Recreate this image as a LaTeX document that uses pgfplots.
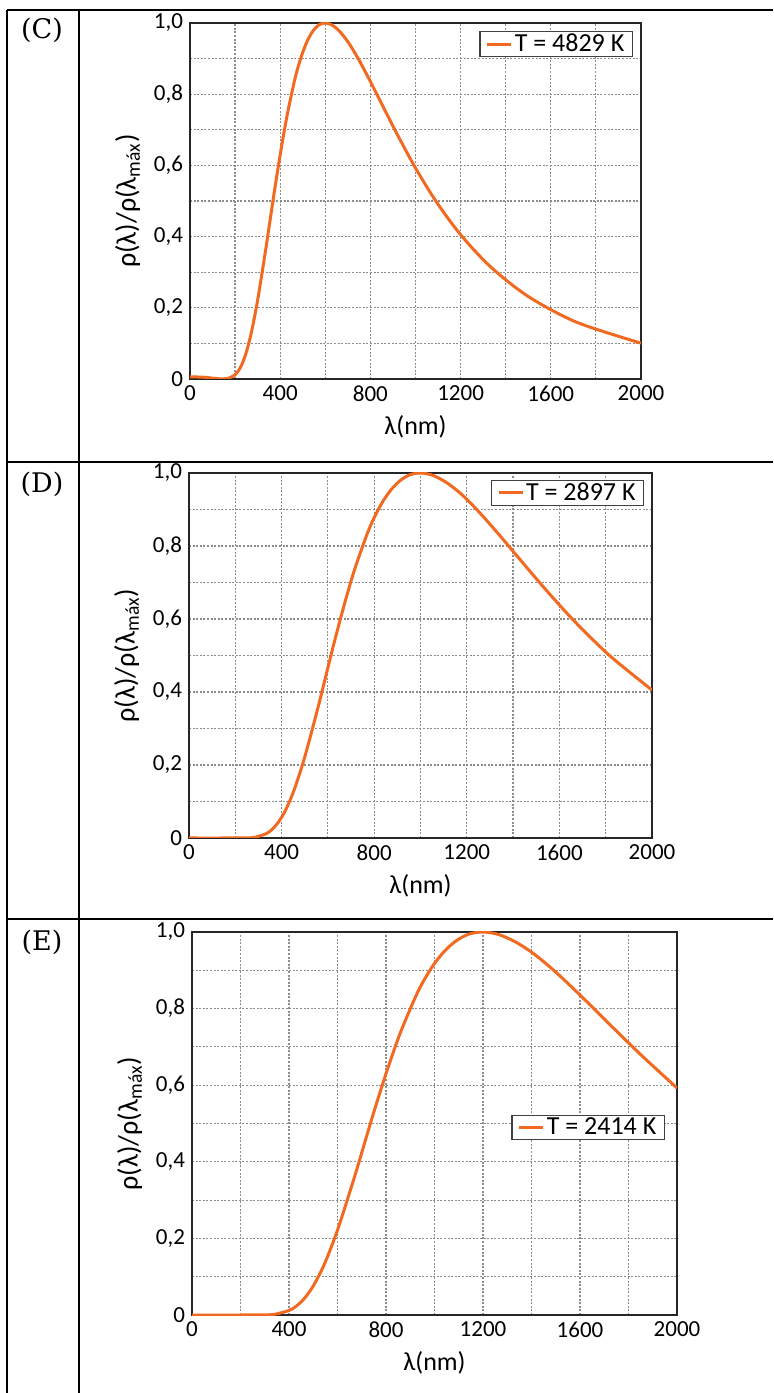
\documentclass[border=0pt]{standalone}
\usepackage{fontspec}
\setmainfont{Carlito}
\newfontfamily\labfont{DejaVu Serif}
\usepackage{pgfplots}
\pgfplotsset{compat=1.18}
\definecolor{curve}{RGB}{242,106,33}

\pgfplotsset{planck/.style={
  scale only axis,
  anchor=south west,
  xmin=0, xmax=2000, ymin=0, ymax=1,
  xtick={0,400,...,2000},
  xticklabels={0,400,800,1200,1600,2000},
  minor xtick={200,600,...,1800},
  ytick={0,0.2,0.4,0.6,0.8,1},
  yticklabels={0,{0,2},{0,4},{0,6},{0,8},{1,0}},
  minor ytick={0.1,0.3,0.5,0.7,0.9},
  grid=both,
  major grid style={black!45, dash pattern=on 1pt off 0.8pt, line width=0.6pt},
  minor grid style={black!45, dash pattern=on 1pt off 0.8pt, line width=0.6pt},
  major tick length=0pt, minor tick length=0pt,
  axis line style={line width=1pt, black!85},
  tick label style={font=\fontsize{11.5}{12}\selectfont},
  xlabel={λ(nm)},
  ylabel={ρ(λ)/ρ(λ\textsubscript{máx})},
  xlabel style={font=\fontsize{13}{14}\selectfont},
  ylabel style={font=\fontsize{14}{15}\selectfont},
  legend style={draw=black!75, line width=0.6pt, font=\fontsize{13}{14}\selectfont,
    inner xsep=3pt, inner ysep=0pt, nodes={inner sep=1pt}},
  legend image code/.code={\draw[curve, line width=1.5pt] (0cm,0cm) -- (0.42cm,0cm);},
  legend cell align=left,
}}

\begin{document}
\begin{tikzpicture}
\path[use as bounding box] (0,0) rectangle (386.5pt,696.5pt);
% table rules
\draw[line width=1pt] (3.5pt,691.5pt) -- (386.5pt,691.5pt);
\draw[line width=1pt] (3.5pt,691.5pt) -- (3.5pt,0pt);
\draw[line width=1pt] (39.5pt,691.5pt) -- (39.5pt,0pt);
\draw[line width=1pt] (3.5pt,465.5pt) -- (386.5pt,465.5pt);
\draw[line width=1pt] (3.5pt,237pt) -- (386.5pt,237pt);
\node[font=\labfont\fontsize{13.5}{15}\selectfont] at (21pt,681.5pt) {(C)};
\node[font=\labfont\fontsize{13.5}{15}\selectfont] at (21pt,454.5pt) {(D)};
\node[font=\labfont\fontsize{13.5}{15}\selectfont] at (21pt,225.5pt) {(E)};

% (C) T = 4829 K
\begin{axis}[planck, at={(95pt,507pt)}, width=225.5pt, height=178pt,
  legend style={at={(0.982,0.977)}, anchor=north east}]
\addplot[curve, line width=1.5pt, smooth] coordinates {
 (0,0.006)(60,0.005)(120,0.001)(150,0.0003)(171.4,0.0021)(200,0.0118)
 (214.3,0.0225)(230.8,0.0419)(250,0.0757)(272.7,0.1323)(300,0.2217)
 (333.3,0.3535)(352.9,0.4364)(375,0.530)(400,0.630)(428.6,0.7336)
 (461.5,0.8326)(480,0.8778)(500,0.9178)(521.7,0.9515)(545.5,0.9777)
 (571.4,0.9947)(600,1)(631.6,0.9937)
 (666.7,0.9743)(705.9,0.942)(750,0.8952)(800,0.8355)(857.1,0.7639)
 (923.1,0.6823)(1000,0.5927)(1090.9,0.4991)(1200,0.4054)(1333.3,0.3149)
 (1500,0.2318)(1714.3,0.1595)(2000,0.1007)
};
\addlegendentry{T = 4829 K}
\end{axis}

% (D) T = 2897 K
\begin{axis}[planck, at={(94.5pt,277.5pt)}, width=231.5pt, height=182.5pt,
  legend style={at={(0.983,0.981)}, anchor=north east}]
\addplot[curve, line width=1.5pt, smooth] coordinates {
 (0,0)(150,0)(250,0.0003)(285.7,0.0021)(333.3,0.0118)(357.1,0.0225)
 (384.6,0.0419)(416.7,0.0757)(454.5,0.1323)(500,0.2217)(555.6,0.3535)
 (588.2,0.4364)(625,0.530)(666.7,0.630)(714.3,0.7336)(769.2,0.8326)
 (800,0.8778)(833.3,0.9178)(869.6,0.9515)(909.1,0.9777)(952.4,0.9947)
 (1000,1)(1052.6,0.9937)(1111.1,0.9743)
 (1176.5,0.942)(1250,0.8952)(1333.3,0.8355)(1428.6,0.7639)(1538.5,0.6823)
 (1666.7,0.5927)(1818.2,0.4991)(2000,0.4054)
};
\addlegendentry{T = 2897 K}
\end{axis}

% (E) T = 2414 K
\begin{axis}[planck, at={(96pt,39pt)}, width=242.5pt, height=191.5pt,
  legend style={at={(0.975,0.49)}, anchor=east}]
\addplot[curve, line width=1.5pt, smooth] coordinates {
 (0,0)(200,0)(300,0.0003)(342.9,0.0021)(400,0.0118)(428.6,0.0225)
 (461.5,0.0419)(500,0.0757)(545.5,0.1323)(600,0.2217)(666.7,0.3535)
 (705.9,0.4364)(750,0.530)(800,0.630)(857.1,0.7336)(923.1,0.8326)
 (960,0.8778)(1000,0.9178)(1043.5,0.9515)(1090.9,0.9777)(1142.9,0.9947)
 (1200,1)(1263.2,0.9937)(1333.3,0.9743)
 (1411.8,0.942)(1500,0.8952)(1600,0.8355)(1714.3,0.7639)(1846.2,0.6823)
 (2000,0.5927)
};
\addlegendentry{T = 2414 K}
\end{axis}
\end{tikzpicture}
\end{document}
